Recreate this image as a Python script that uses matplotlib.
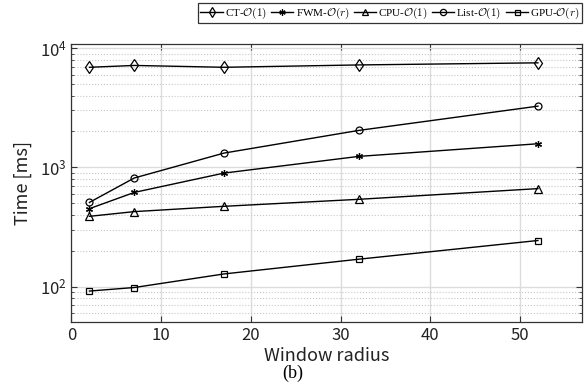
import matplotlib

matplotlib.use("Agg")
import matplotlib.pyplot as plt
from matplotlib.font_manager import FontProperties
from matplotlib.ticker import LogLocator, NullFormatter

# window radius and run time [ms] per method
radius = [2, 7, 17, 32, 52]
ct_o1 = [6900, 7150, 6900, 7220, 7520]
fwm_or = [451, 617, 896, 1236, 1578]
cpu_o1 = [389, 426, 472, 540, 664]
list_o1 = [509, 815, 1318, 2040, 3260]
gpu_or = [92, 98.5, 128, 170, 244]

labels = [r"CT-$\mathcal{O}(1)$", r"FWM-$\mathcal{O}(r)$", r"CPU-$\mathcal{O}(1)$",
          r"List-$\mathcal{O}(1)$", r"GPU-$\mathcal{O}(r)$"]

plt.rcParams["font.family"] = ["Noto Sans CJK JP", "DejaVu Sans"]

fig = plt.figure(figsize=(5.86, 3.9), dpi=100)
ax = fig.add_axes([0.122, 0.174, 0.871, 0.713])

series = [
    (ct_o1, "d", 6, "none"),
    (fwm_or, (6, 2, 0), 5, "black"),
    (cpu_o1, "^", 5.5, "none"),
    (list_o1, "o", 5, "none"),
    (gpu_or, "s", 4, "none"),
]
for (values, marker, size, face), label in zip(series, labels):
    ax.plot(radius, values, color="black", linewidth=1.0, marker=marker,
            markersize=size, markerfacecolor=face, markeredgecolor="black",
            markeredgewidth=0.9, label=label)

ax.set_yscale("log")
ax.set_xlim(0, 56.9)
ax.set_ylim(50.5, 10800)
ax.set_xticks([0, 10, 20, 30, 40, 50])
ax.yaxis.set_minor_locator(LogLocator(base=10, subs=range(2, 10)))
ax.yaxis.set_minor_formatter(NullFormatter())

ax.grid(which="major", color="#dcdcdc", linewidth=1.0)
ax.grid(which="minor", axis="y", color="#c8c8c8", linestyle=":", linewidth=0.8)
ax.set_axisbelow(True)

for spine in ax.spines.values():
    spine.set_color("#333333")
    spine.set_linewidth(0.9)
ax.tick_params(which="both", direction="in", top=True, right=True, colors="#333333",
               labelcolor="#222222", labelsize=12)
ax.tick_params(which="major", length=4)
ax.tick_params(which="minor", length=2)

ax.set_xlabel("Window radius", fontsize=13, color="#222222", labelpad=2)
ax.set_ylabel("Time [ms]", fontsize=13, color="#222222", labelpad=6)

legend_font = FontProperties(family="Liberation Serif", size=8, math_fontfamily="cm")
leg = ax.legend(loc="lower right", bbox_to_anchor=(1.0, 1.075), ncol=5, prop=legend_font,
                frameon=True, fancybox=False, edgecolor="black", borderpad=0.2,
                handlelength=2.0, handletextpad=0.2, columnspacing=0.4,
                borderaxespad=0.0, markerscale=0.9)
leg.get_frame().set_linewidth(0.9)

fig.text(0.5, 0.02, "(b)", ha="center", va="bottom", fontsize=13,
         family="Liberation Serif")

fig.savefig("out.png", dpi=100)
